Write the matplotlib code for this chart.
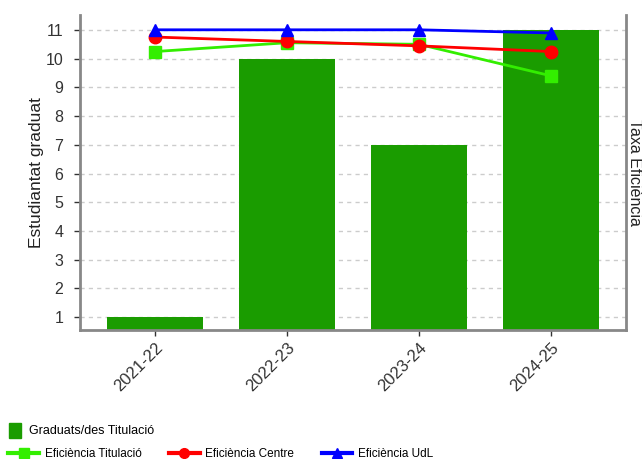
import numpy as np
import matplotlib
matplotlib.use('Agg')
import matplotlib.pyplot as plt
from matplotlib.patches import Patch
from matplotlib.lines import Line2D

plt.rcParams['font.family'] = ['Liberation Sans', 'DejaVu Sans']

# data
courses = ['2021-22', '2022-23', '2023-24', '2024-25']
graduats = [1, 10, 7, 11]
efic_titulacio = [88.4, 91.2, 90.7, 80.7]
efic_centre = [93.0, 91.6, 90.2, 88.4]
efic_udl = [95.3, 95.3, 95.3, 94.3]

bar_color = '#1a9c00'
c_tit = '#33ee00'
c_cen = '#ff0000'
c_udl = '#0000ff'

fig = plt.figure(figsize=(6.42, 4.59), dpi=100)
ax = fig.add_axes([80/642, 1 - 330/459, (626-80)/642, (330-15)/459])

x = np.arange(len(courses))
ax.bar(x, graduats, width=0.73, color=bar_color, zorder=2)
ax.set_ylim(0.55, 11.52)
ax.set_xlim(-0.57, 3.57)
ax.set_yticks(range(1, 12))
ax.set_xticks(x)
ax.set_xticklabels(courses, rotation=45, ha='right', rotation_mode='anchor')
ax.yaxis.grid(True, linestyle=(0, (3, 3)), color='#cccccc', lw=1, zorder=0)
ax.set_ylabel('Estudiantat graduat', fontsize=12.5, color='#222222', labelpad=1)
ax.tick_params(axis='y', labelsize=11.5, colors='#333333', length=4, width=1, pad=8)
ax.tick_params(axis='x', labelsize=12, colors='#333333', length=4, width=1, pad=3)
for s in ['left', 'bottom']:
    ax.spines[s].set_color('#888888')
    ax.spines[s].set_linewidth(2)
ax.spines['top'].set_visible(False)
ax.spines['right'].set_visible(False)

ax2 = ax.twinx()
ax2.set_ylim(0, 100)
ax2.plot(x, efic_titulacio, color=c_tit, marker='s', ms=9, lw=2, zorder=3)
ax2.plot(x, efic_centre, color=c_cen, marker='o', ms=9, lw=2, zorder=4)
ax2.plot(x, efic_udl, color=c_udl, marker='^', ms=9, lw=2, zorder=5)
ax2.set_yticks([])
ax2.spines['top'].set_visible(False)
ax2.spines['left'].set_visible(False)
ax2.spines['bottom'].set_visible(False)
ax2.spines['right'].set_color('#888888')
ax2.spines['right'].set_linewidth(2)
ax2.set_ylabel('Taxa Eficiència', rotation=270, fontsize=11.5, color='#222222', labelpad=1,
               va='bottom')

h_bar = [Patch(color=bar_color, label='Graduats/des Titulació')]
fig.legend(handles=h_bar, loc='upper left', bbox_to_anchor=(0.0, 1 - 414/459),
           frameon=False, fontsize=9, handlelength=0.95, handleheight=1.5, handletextpad=0.7,
           borderaxespad=0.3)
h_lines = [Line2D([], [], color=c_tit, marker='s', ms=7, lw=3, label='Eficiència Titulació'),
           Line2D([], [], color=c_cen, marker='o', ms=7, lw=3, label='Eficiència Centre'),
           Line2D([], [], color=c_udl, marker='^', ms=7, lw=3, label='Eficiència UdL')]
fig.legend(handles=h_lines, loc='upper left', bbox_to_anchor=(0.0, 1 - 440/459), ncol=3,
           frameon=False, fontsize=8.5, handlelength=2.6, handletextpad=0.5, columnspacing=2.3,
           borderaxespad=0.3)

fig.savefig('out.png', dpi=100)
